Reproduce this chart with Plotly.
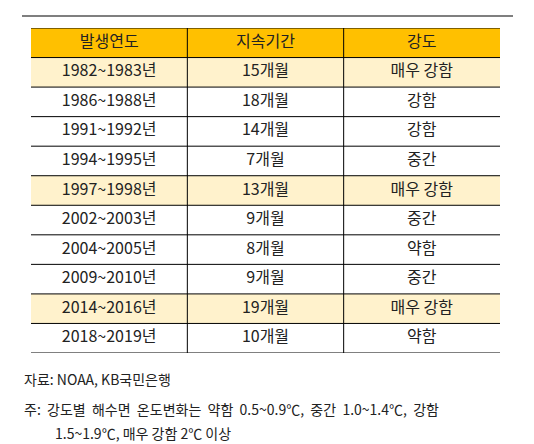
import plotly.graph_objects as go

header = ["발생연도", "지속기간", "강도"]
years = ["1982~1983년", "1986~1988년", "1991~1992년", "1994~1995년", "1997~1998년",
         "2002~2003년", "2004~2005년", "2009~2010년", "2014~2016년", "2018~2019년"]
duration = ["15개월", "18개월", "14개월", "7개월", "13개월", "9개월", "8개월", "9개월", "19개월", "10개월"]
strength = ["매우 강함", "강함", "강함", "중간", "매우 강함", "중간", "약함", "중간", "매우 강함", "약함"]
notes = ["자료: NOAA, KB국민은행",
         "주:  강도별  해수면  온도변화는  약함  0.5~0.9℃,  중간  1.0~1.4℃,  강함",
         "1.5~1.9℃, 매우 강함 2℃ 이상"]

FONT = "Noto Sans CJK KR, Malgun Gothic, sans-serif"
nrows = len(years) + 1
nofill = dict(width=0, color="rgba(0,0,0,0)")
shapes = []
# header fill
shapes.append(dict(type="rect", xref="x", yref="y", x0=0, x1=3, y0=0, y1=1,
                   fillcolor="#FFC000", line=nofill, layer="below"))
for i, s in enumerate(strength):
    if s == "매우 강함":
        shapes.append(dict(type="rect", xref="x", yref="y", x0=0, x1=3, y0=i + 1, y1=i + 2,
                           fillcolor="#FFF2CC", line=nofill, layer="below"))
for r in range(nrows + 1):
    shapes.append(dict(type="line", xref="x", yref="y", x0=0, x1=3, y0=r, y1=r,
                       line=dict(color="black", width=1)))
for c in (1, 2):
    shapes.append(dict(type="line", xref="x", yref="y", x0=c, x1=c, y0=0, y1=nrows,
                       line=dict(color="black", width=1)))
# top rule
shapes.append(dict(type="line", xref="paper", yref="paper", x0=-9 / 469, x1=482 / 469,
                   y0=1 + 12 / 325, y1=1 + 12 / 325, line=dict(color="black", width=1.2)))

fig = go.Figure()
cols = [header[0:1] + years, header[1:2] + duration, header[2:3] + strength]
for ci, col in enumerate(cols):
    fig.add_trace(go.Scatter(x=[ci + 0.5] * len(col), y=[r + 0.5 for r in range(len(col))],
                             mode="text", text=col, textfont=dict(family=FONT, size=16, color="#222"),
                             hoverinfo="skip", showlegend=False))

ann = [
    dict(text=notes[0], x=-9 / 469, y=1 - 351 / 325, xanchor="left", yanchor="middle"),
    dict(text=notes[1], x=-9 / 469, y=1 - 381 / 325, xanchor="left", yanchor="middle"),
    dict(text=notes[2], x=22 / 469, y=1 - 405 / 325, xanchor="left", yanchor="middle"),
]
for a in ann:
    a.update(xref="paper", yref="paper", showarrow=False,
             font=dict(family=FONT, size=14, color="#222"))

fig.update_layout(
    width=534, height=444, margin=dict(l=23, r=42, t=20, b=99),
    plot_bgcolor="white", paper_bgcolor="white",
    xaxis=dict(range=[0, 3], visible=False, fixedrange=True),
    yaxis=dict(range=[nrows, 0], visible=False, fixedrange=True),
    shapes=shapes, annotations=ann,
)
fig.write_html("out.html")
